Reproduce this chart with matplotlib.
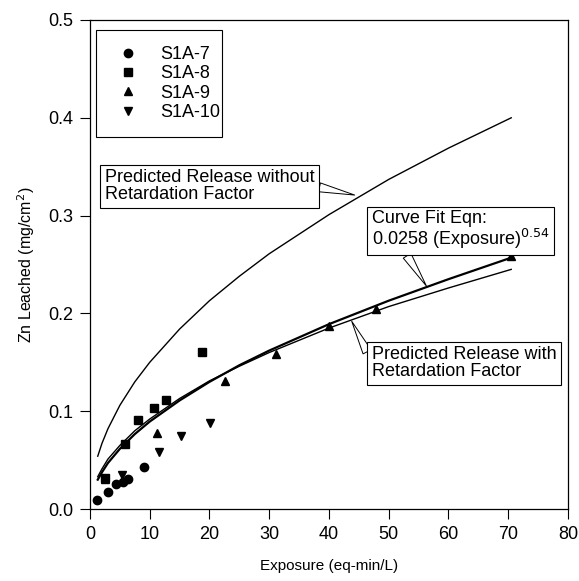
import matplotlib
matplotlib.use('Agg')
import matplotlib.pyplot as plt
from matplotlib.patches import Rectangle

plt.rcParams['font.family'] = ['Liberation Sans', 'DejaVu Sans']

# Measured leaching data (exposure eq-min/L, Zn leached mg/cm2)
s7_x = [1.2, 3.1, 4.4, 5.6, 6.4, 9.1]
s7_y = [0.009, 0.017, 0.026, 0.028, 0.031, 0.043]
s8_x = [2.5, 5.9, 8.1, 10.7, 12.7, 18.8]
s8_y = [0.032, 0.066, 0.091, 0.103, 0.111, 0.161]
s9_x = [2.5, 11.2, 22.6, 31.2, 40.0, 47.8, 70.5]
s9_y = [0.031, 0.078, 0.131, 0.159, 0.187, 0.204, 0.259]
s10_x = [5.3, 11.6, 15.3, 20.1]
s10_y = [0.035, 0.058, 0.075, 0.088]

# Curves
curve_x = [1.3, 2, 3, 5, 7.5, 10, 15, 20, 25, 30, 40, 50, 60, 70.5]
no_retard_y = [0.054, 0.067, 0.082, 0.106, 0.130, 0.150, 0.184, 0.213,
               0.238, 0.261, 0.301, 0.337, 0.369, 0.400]
fit_y = [0.030, 0.0375, 0.047, 0.0615, 0.0766, 0.0894, 0.111, 0.130,
         0.147, 0.162, 0.189, 0.213, 0.235, 0.257]
retard_y = [0.033, 0.041, 0.051, 0.065, 0.080, 0.092, 0.113, 0.131,
            0.146, 0.160, 0.185, 0.207, 0.226, 0.245]

fig = plt.figure(figsize=(5.79, 5.81), dpi=100)
ax = fig.add_axes([0.1554, 0.1239, 0.8256, 0.8417])

ax.plot(curve_x, no_retard_y, color='black', lw=1.0)
ax.plot(curve_x, fit_y, color='black', lw=1.6)
ax.plot(curve_x, retard_y, color='black', lw=1.0)

ms = 6
ax.plot(s7_x, s7_y, 'o', color='black', ms=ms, label='S1A-7')
ax.plot(s8_x, s8_y, 's', color='black', ms=ms - 0.5, label='S1A-8')
ax.plot(s9_x, s9_y, '^', color='black', ms=ms, label='S1A-9')
ax.plot(s10_x, s10_y, 'v', color='black', ms=ms, label='S1A-10')

ax.set_xlim(0, 80)
ax.set_ylim(0, 0.5)
ax.set_xticks(range(0, 81, 10))
ax.set_yticks([0.0, 0.1, 0.2, 0.3, 0.4, 0.5])
ax.set_yticklabels(['0.0', '0.1', '0.2', '0.3', '0.4', '0.5'])
ax.tick_params(direction='out', length=7, width=0.8, labelsize=13, pad=5)
for sp in ax.spines.values():
    sp.set_linewidth(0.9)

ax.set_xlabel('Exposure (eq-min/L)', fontsize=11, labelpad=12)
ax.set_ylabel('Zn Leached (mg/cm$^2$)', fontsize=11.5, labelpad=8)

# legend entries without frame, frame drawn as a tight box like the original
leg = ax.legend(loc='upper left', bbox_to_anchor=(0.0126, 0.98), fontsize=13,
                frameon=False, handlelength=1.8, handletextpad=0.85,
                borderpad=0.9, labelspacing=0.13, borderaxespad=0)
ax.add_patch(Rectangle((0.0126, 0.7607), 0.2636, 0.2189, transform=ax.transAxes,
                       fill=False, ec='black', lw=0.8, zorder=5))

box = dict(boxstyle='square,pad=0.25', fc='white', ec='black', lw=0.8)
wedge = 'wedge,tail_width=0.5,shrink_factor=0.5'

ax.annotate('Predicted Release without\nRetardation Factor',
            xy=(44.3, 0.321), xytext=(2.5, 0.33), ha='left', va='center',
            fontsize=13, linespacing=1.0, bbox=box,
            arrowprops=dict(arrowstyle=wedge, fc='white', ec='black', lw=0.7,
                            relpos=(1.0, 0.5), shrinkA=0, shrinkB=0))

ax.annotate('Curve Fit Eqn:\n0.0258 (Exposure)$^{0.54}$',
            xy=(56.3, 0.228), xytext=(47.2, 0.285), ha='left', va='center',
            fontsize=13, linespacing=1.0, bbox=box,
            arrowprops=dict(arrowstyle=wedge, fc='white', ec='black', lw=0.7,
                            relpos=(0.18, 0.0), shrinkA=0, shrinkB=0))

ax.annotate('Predicted Release with\nRetardation Factor',
            xy=(43.8, 0.192), xytext=(47.2, 0.149), ha='left', va='center',
            fontsize=13, linespacing=1.0, bbox=box,
            arrowprops=dict(arrowstyle=wedge, fc='white', ec='black', lw=0.7,
                            relpos=(0.0, 0.55), shrinkA=0, shrinkB=0))

fig.savefig('out.png', dpi=100, facecolor='white')
